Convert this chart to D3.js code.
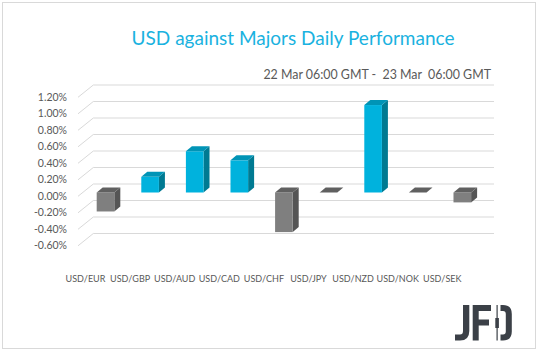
<!DOCTYPE html>
<html><head><meta charset="utf-8">
<script src="https://cdn.jsdelivr.net/npm/d3@7"></script>
<style>
html,body{margin:0;padding:0;background:#fff;}
svg{display:block;font-family:Lato, "Open Sans", sans-serif;}
</style></head>
<body>
<script>
const categories = ["USD/EUR","USD/GBP","USD/AUD","USD/CAD","USD/CHF","USD/JPY","USD/NZD","USD/NOK","USD/SEK"];
const values = [-0.23, 0.19, 0.50, 0.39, -0.48, 0.00, 1.06, 0.00, -0.12];
const yTicks = [-0.6,-0.4,-0.2,0,0.2,0.4,0.6,0.8,1.0,1.2];
const titleText = "USD against Majors Daily Performance";
const subtitleText = "22 Mar 06:00 GMT -  23 Mar  06:00 GMT";

const W = 538, H = 351;
const svg = d3.select("body").append("svg").attr("width", W).attr("height", H);

svg.append("rect").attr("x",2.5).attr("y",2.5).attr("width",533).attr("height",346)
  .attr("fill","#fff").attr("stroke","#D9D9D9").attr("stroke-width",1);

svg.append("text").attr("x",293).attr("y",45).attr("text-anchor","middle")
  .attr("font-size",19).attr("fill","#1AB2E0").text(titleText);
svg.append("text").attr("x",491).attr("y",79).attr("text-anchor","end")
  .attr("font-size",12.4).attr("fill","#595959").style("white-space","pre").text(subtitleText);

const y = d3.scaleLinear().domain([-0.6,1.2]).range([242,93.5]);
const x = d3.scaleBand().domain(categories).range([83.2,484.6]).padding(0);
const bw = x.bandwidth()*0.395;
const dx = 6, dy = 5;
const frontX = 78, frontDY = 3.8, backX = 93.3, backDY = -8.5, backEnd = 494;

const grid = svg.append("g").attr("stroke","#D9D9D9").attr("stroke-width",1).attr("fill","none");
yTicks.forEach(t=>{
  const yy = y(t);
  grid.append("line").attr("x1",frontX).attr("y1",yy+frontDY).attr("x2",backX).attr("y2",yy+backDY);
  grid.append("line").attr("x1",backX).attr("y1",yy+backDY).attr("x2",backEnd).attr("y2",yy+backDY);
});

svg.append("g").selectAll("text").data(yTicks).join("text")
  .attr("x",67).attr("y",d=>y(d)+frontDY).attr("dy","0.35em").attr("text-anchor","end")
  .attr("font-size",10.5).attr("fill","#595959")
  .text(d=>d3.format(".2%")(d/100).replace("−","-"));

const colors = {
  pos:{front:"#00B2DD", side:"#007A92", top:"#0094B6"},
  neg:{front:"#7F7F7F", side:"#555555", top:"#606060"}
};
const bars = svg.append("g");
categories.forEach((c,i)=>{
  const v = values[i];
  const col = v>0 ? colors.pos : colors.neg;
  const cx = x(c)+x.bandwidth()/2;
  const x0 = cx-bw/2, x1 = cx+bw/2;
  const top = y(Math.max(v,0)), bot = y(Math.min(v,0));
  const g = bars.append("g");
  if (bot-top > 0.5) {
    g.append("path").attr("fill",col.side)
      .attr("d",`M${x1},${top}L${x1+dx},${top-dy}L${x1+dx},${bot-dy}L${x1},${bot}Z`);
    g.append("rect").attr("x",x0).attr("y",top).attr("width",bw).attr("height",bot-top).attr("fill",col.front);
  }
  g.append("path").attr("fill",col.top)
    .attr("d",`M${x0},${top}L${x0+dx},${top-dy}L${x1+dx},${top-dy}L${x1},${top}Z`);
});

// x labels (slanted text is not rendered here; centred where the slanted labels sit)
svg.append("g").selectAll("text").data(categories).join("text")
  .attr("x",d=>x(d)+x.bandwidth()/2-20).attr("y",279).attr("dy","0.35em")
  .attr("text-anchor","middle")
  .attr("font-size",9).attr("fill","#595959").text(d=>d);

const logo = svg.append("g").attr("fill","#3B4047");
logo.append("path").attr("d","M463,305H469.3V331Q469.3,340.5 460,340.5H455V334.5H460Q463,334.5 463,331Z");
logo.append("path").attr("d","M472.7,305H491V311H478.7V319.5H489V325.5H478.7V340.5H472.7Z");
logo.append("rect").attr("x",496.5).attr("y",305).attr("width",1.2).attr("height",35.5);
logo.append("rect").attr("x",495.3).attr("y",318).attr("width",3.6).attr("height",10);
logo.append("path").attr("d","M500.5,305H503Q511.8,305 511.8,314V331.5Q511.8,340.5 503,340.5H500.5V334.5H503Q505.8,334.5 505.8,331.5V314Q505.8,311 503,311H500.5Z");
</script>
</body></html>
